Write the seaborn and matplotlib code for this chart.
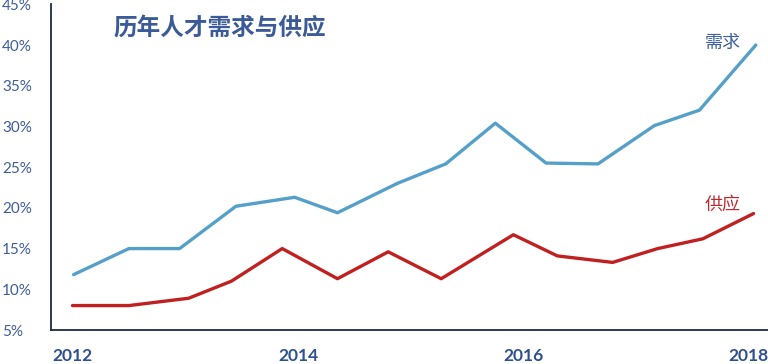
import numpy as np
import pandas as pd
import matplotlib
matplotlib.use("Agg")
import matplotlib.pyplot as plt
import seaborn as sns

# ---- data ----
demand_x = [2012.01, 2012.50, 2012.95, 2013.45, 2013.97, 2014.35, 2014.88,
            2015.31, 2015.75, 2016.20, 2016.66, 2017.16, 2017.56, 2018.06]
demand_y = [11.8, 15.0, 15.0, 20.2, 21.3, 19.4, 23.0,
            25.4, 30.4, 25.5, 25.4, 30.1, 32.0, 40.0]
supply_x = [2012.00, 2012.50, 2013.03, 2013.41, 2013.86, 2014.35, 2014.80,
            2015.27, 2015.91, 2016.30, 2016.79, 2017.19, 2017.59, 2018.04]
supply_y = [8.0, 8.0, 8.9, 11.0, 15.0, 11.3, 14.6,
            11.3, 16.7, 14.1, 13.3, 15.0, 16.2, 19.3]
series_names = ["需求", "供应"]
year_labels = [2012, 2014, 2016, 2018]
y_ticks = [5, 10, 15, 20, 25, 30, 35, 40, 45]
title = "历年人才需求与供应"

df = pd.concat([
    pd.DataFrame({"year": demand_x, "value": demand_y, "series": series_names[0]}),
    pd.DataFrame({"year": supply_x, "value": supply_y, "series": series_names[1]}),
], ignore_index=True)

sns.set_theme(style="white")
plt.rcParams["font.family"] = ["Lato", "Noto Sans CJK SC", "DejaVu Sans"]

BLUE = "#55a0c8"
RED = "#c0201f"
AXC = "#1c2b3f"
TXT = "#3d5d99"

W, H = 768, 364
fig = plt.figure(figsize=(W / 100, H / 100), dpi=100)
ax = fig.add_axes([50.5 / W, (H - 330) / H, (W - 50.5) / W, (330 - 4.3) / H])

sns.lineplot(data=df, x="year", y="value", hue="series",
             palette={series_names[0]: BLUE, series_names[1]: RED},
             linewidth=2.4, legend=False, sort=False, ax=ax)

ax.set_xlim(2011.805, 2018.168)
ax.set_ylim(5, 45)
ax.set_xlabel("")
ax.set_ylabel("")

for s in ["top", "right"]:
    ax.spines[s].set_visible(False)
for s in ["left", "bottom"]:
    ax.spines[s].set_color(AXC)
    ax.spines[s].set_linewidth(1.3)

# y axis
ax.set_yticks(y_ticks)
ax.set_yticklabels([f"{v}%" for v in y_ticks], fontsize=11, color=TXT)
ax.tick_params(axis="y", direction="out", length=8, width=1.2, color=AXC, pad=27)
for lab in ax.get_yticklabels():
    lab.set_horizontalalignment("left")

# x axis
ax.set_xticks(year_labels)
ax.set_xticklabels([str(y) for y in year_labels], fontsize=12.5, fontweight="bold", color="#2f5090")
ax.tick_params(axis="x", which="major", length=0, pad=13)
ax.set_xticks(2012.213 + 0.5082 * np.arange(12), minor=True)
ax.tick_params(axis="x", which="minor", direction="out", length=8.6, width=1.2, color=AXC)
ax.grid(False)
# keep last year label fully inside the canvas
ax.get_xticklabels()[-1].set_horizontalalignment("right")
import matplotlib.transforms as mtransforms
ax.get_xticklabels()[-1].set_transform(
    ax.get_xticklabels()[-1].get_transform() + mtransforms.ScaledTranslation(19 / 100, 0, fig.dpi_scale_trans))

# title and series labels
fig.text(220 / W, 1 - 29 / H, title, ha="center", va="center", fontsize=17,
         fontweight="bold", color="#3a5a98", family=["Noto Sans CJK SC"])
lab_x = 2018.168 - (768 - 722.5) / 112.75
ax.text(lab_x, 40.2, series_names[0], ha="center", va="center",
        fontsize=13, color="#3f5f9f", family=["Noto Sans CJK SC"])
ax.text(lab_x, 20.4, series_names[1], ha="center", va="center",
        fontsize=13, color="#c0282d", family=["Noto Sans CJK SC"])

fig.savefig("out.png", dpi=100)
